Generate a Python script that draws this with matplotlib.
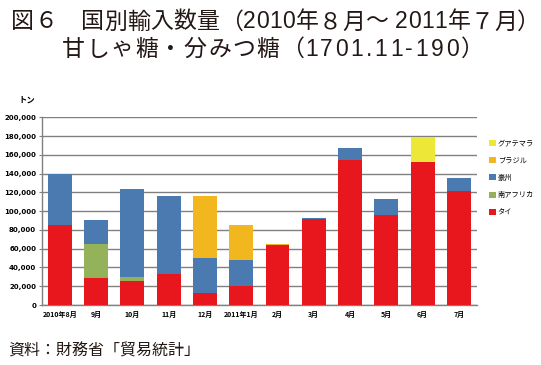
import matplotlib
matplotlib.use("Agg")
import matplotlib.pyplot as plt
import numpy as np

plt.rcParams['font.family'] = ['Noto Sans CJK JP', 'DejaVu Sans']

categories = ["2010年8月", "9月", "10月", "11月", "12月", "2011年1月",
              "2月", "3月", "4月", "5月", "6月", "7月"]
thai = [85000, 29000, 25600, 33400, 12800, 20200, 64000, 91600, 154500, 96000, 152400, 121500]
south_africa = [0, 36000, 4200, 0, 0, 0, 0, 0, 0, 0, 0, 0]
australia = [55000, 25600, 93800, 82600, 37200, 27800, 0, 1100, 12500, 17000, 0, 13800]
brazil = [0, 0, 0, 0, 66000, 37000, 1000, 0, 0, 0, 0, 0]
guatemala = [0, 0, 0, 0, 0, 0, 0, 0, 0, 0, 26600, 0]

series_names = ["タイ", "南アフリカ", "豪州", "ブラジル", "グアテマラ"]
series_vals = [thai, south_africa, australia, brazil, guatemala]
colors = ["#E8161D", "#93B25A", "#4A7AB0", "#F2B71E", "#EDE838"]

W, H = 541, 365
fig = plt.figure(figsize=(W/100, H/100), dpi=100)
ax = fig.add_axes([41.7/W, 1-305/H, (477-41.7)/W, 187.7/H])

x = np.arange(len(categories))
bottom = np.zeros(len(categories))
handles = []
for name, vals, c in zip(series_names, series_vals, colors):
    v = np.array(vals, dtype=float)
    b = ax.bar(x, v, 0.66, bottom=bottom, color=c, label=name, zorder=3, linewidth=0)
    handles.append(b)
    bottom += v

ax.set_xlim(-0.5, 11.5)
ax.set_ylim(0, 200000)
ax.set_yticks(np.arange(0, 200001, 20000))
ax.set_yticklabels([f"{v:,}" for v in range(0, 200001, 20000)], fontsize=5,
                   family=['DejaVu Sans'], fontweight='bold')
ax.set_xticks(x)
ax.set_xticklabels(categories, fontsize=5, fontweight='bold')
ax.grid(axis='y', color='#808080', linewidth=1, zorder=0)
for s in ['top', 'right']:
    ax.spines[s].set_visible(False)
for s in ['left', 'bottom']:
    ax.spines[s].set_color('#808080')
    ax.spines[s].set_linewidth(1)
ax.tick_params(axis='y', length=2, color='#808080', pad=2)
ax.tick_params(axis='x', length=0, pad=4)

leg = fig.legend(handles[::-1], series_names[::-1], loc='upper left',
                 bbox_to_anchor=(489/W, 1-139/H), frameon=False,
                 fontsize=5.2, handlelength=0.9, handleheight=0.9,
                 handletextpad=0.3, labelspacing=1.3, borderpad=0, borderaxespad=0)

fig.text(18/W, 1-100/H, "トン", fontsize=6, fontweight='bold', ha='left', va='center')

title_fam = ['Liberation Sans', 'Noto Sans CJK JP']


def fit_text(s, x0, x1, y, fontsize):
    """Draw string s char by char, spreading it between pixel x0 and x1."""
    renderer = fig.canvas.get_renderer()
    texts = []
    widths = []
    for ch in s:
        t = fig.text(0, 1-y/H, ch, fontsize=fontsize, ha='left', va='center',
                     color='#231815', family=title_fam)
        widths.append(t.get_window_extent(renderer).width)
        texts.append(t)
    gap = (x1 - x0 - sum(widths)) / max(len(s) - 1, 1)
    cx = x0
    for t, w in zip(texts, widths):
        t.set_x(cx / W)
        cx += w + gap


fit_text("図６　国別輸入数量（2010年８月～ 2011年７月）", 11, 540, 22, 16.5)
fit_text("甘しゃ糖・分みつ糖（", 62, 304, 49, 16.5)
fit_text("1701.11-190）", 305, 484, 49, 16.5)

fig.text(8/W, 1-351/H, "資料：財務省「貿易統計」", fontsize=11.5,
         ha='left', va='center', color='#231815')

fig.savefig("out.png", dpi=100)
